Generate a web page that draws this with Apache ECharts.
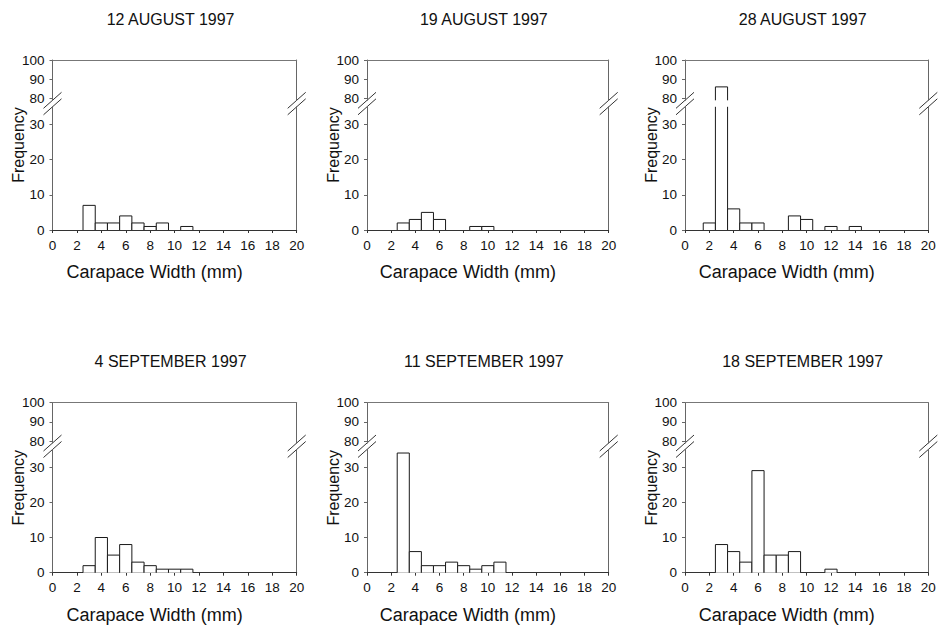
<!DOCTYPE html>
<html><head><meta charset="utf-8">
<script src="https://cdn.jsdelivr.net/npm/echarts@6/dist/echarts.min.js"></script>
<style>html,body{margin:0;padding:0;background:#fff}#c{width:938px;height:627px}</style>
</head><body><div id="c"></div>
<script>
// ---- data ----
const panelTitles = ['12 AUGUST 1997', '19 AUGUST 1997', '28 AUGUST 1997', '4 SEPTEMBER 1997', '11 SEPTEMBER 1997', '18 SEPTEMBER 1997'];
const binCenters = [0, 1, 2, 3, 4, 5, 6, 7, 8, 9, 10, 11, 12, 13, 14, 15, 16, 17, 18, 19];
const freqAug12 = [0, 0, 0, 7, 2, 2, 4, 2, 1, 2, 0, 1, 0, 0, 0, 0, 0, 0, 0, 0];
const freqAug19 = [0, 0, 0, 2, 3, 5, 3, 0, 0, 1, 1, 0, 0, 0, 0, 0, 0, 0, 0, 0];
const freqAug28 = [0, 0, 2, 86, 6, 2, 2, 0, 0, 4, 3, 0, 1, 0, 1, 0, 0, 0, 0, 0];
const freqSep04 = [0, 0, 0, 2, 10, 5, 8, 3, 2, 1, 1, 1, 0, 0, 0, 0, 0, 0, 0, 0];
const freqSep11 = [0, 0, 0, 34, 6, 2, 2, 3, 2, 1, 2, 3, 0, 0, 0, 0, 0, 0, 0, 0];
const freqSep18 = [0, 0, 0, 8, 6, 3, 29, 5, 5, 6, 0, 0, 1, 0, 0, 0, 0, 0, 0, 0];
const panelFreqs = [freqAug12, freqAug19, freqAug28, freqSep04, freqSep11, freqSep18];
const xTickLabels = [0, 2, 4, 6, 8, 10, 12, 14, 16, 18, 20];
const yLowerTicks = [0, 10, 20, 30];
const yUpperTicks = [80, 90, 100];
const xName = 'Carapace Width (mm)';
const yName = 'Frequency';

// ---- layout ----
const FONT = 'Liberation Sans, Arial, sans-serif';
const colLeft = [52.5, 367, 685];
const colRight = [296.7, 608.7, 928.3];
const rowTop = [60, 402.7];
const upperMin = 79, upperMax = 100, lowerMin = 0, lowerMax = 35;
const pxUpper = 1.92, pxLower = 3.52;
const upperH = (upperMax - upperMin) * pxUpper;
const lowerH = (lowerMax - lowerMin) * pxLower;
const lowerBottomOffset = 170; // rowTop -> y=0

const grids = [], xAxes = [], yAxes = [], series = [], graphics = [];
const textColor = '#111';

function renderBars(params, api) {
  const x = api.value(0), v = api.value(1);
  if (!(v > 0)) return null;
  const cs = params.coordSys;
  const gb = cs.y + cs.height;
  let top = api.coord([x, v])[1];
  if (top >= gb) return null;
  const left = api.coord([x - 0.5, v])[0];
  const right = api.coord([x + 0.5, v])[0];
  const bottom = Math.min(api.coord([x, 0])[1], gb);
  const showTop = top >= cs.y;
  top = Math.max(top, cs.y);
  const st = { stroke: '#1a1a1a', lineWidth: 1, fill: null };
  const children = [
    { type: 'rect', shape: { x: left, y: top, width: right - left, height: bottom - top }, style: { fill: '#fff', stroke: null } },
    { type: 'line', shape: { x1: left, y1: bottom, x2: left, y2: top }, style: st },
    { type: 'line', shape: { x1: right, y1: bottom, x2: right, y2: top }, style: st }
  ];
  if (showTop) children.push({ type: 'line', shape: { x1: left, y1: top, x2: right, y2: top }, style: st });
  return { type: 'group', children };
}

for (let p = 0; p < 6; p++) {
  const c = p % 3, r = Math.floor(p / 3);
  const L = colLeft[c], R = colRight[c], W = R - L;
  const T = rowTop[r];
  const zeroY = T + lowerBottomOffset;
  const upperTop = T, upperBottom = T + upperH;
  const lowerTop = zeroY - lowerH;
  const gU = 2 * p, gL = 2 * p + 1;
  grids.push({ left: L, top: upperTop, width: W, height: upperH, containLabel: false, outerBoundsMode: 'none' });
  grids.push({ left: L, top: lowerTop, width: W, height: lowerH, containLabel: false, outerBoundsMode: 'none' });
  // x axes
  xAxes.push({ type: 'value', gridIndex: gU, min: 0, max: 20, interval: 2, position: 'top',
    axisLine: { show: true, onZero: false, lineStyle: { color: '#777', width: 1 } },
    axisTick: { show: false }, axisLabel: { show: false }, splitLine: { show: false } });
  xAxes.push({ type: 'value', gridIndex: gL, min: 0, max: 20, interval: 2, position: 'bottom',
    axisLine: { show: true, onZero: false, lineStyle: { color: '#333', width: 1 } },
    axisTick: { show: true, length: 3, lineStyle: { color: '#333' } },
    axisLabel: { show: true, margin: 8, fontSize: 13.5, color: textColor, fontFamily: FONT, customValues: xTickLabels },
    splitLine: { show: false } });
  // y axes (left upper, left lower, right upper, right lower)
  yAxes.push({ type: 'value', gridIndex: gU, min: upperMin, max: upperMax, position: 'left',
    axisLine: { show: true, onZero: false, lineStyle: { color: '#666' } },
    axisTick: { show: true, length: 3, customValues: yUpperTicks, lineStyle: { color: '#666' } },
    axisLabel: { show: true, margin: 8, fontSize: 13.5, color: textColor, fontFamily: FONT, customValues: yUpperTicks },
    splitLine: { show: false } });
  yAxes.push({ type: 'value', gridIndex: gL, min: lowerMin, max: lowerMax, position: 'left',
    axisLine: { show: true, onZero: false, lineStyle: { color: '#666' } },
    axisTick: { show: true, length: 3, customValues: yLowerTicks, lineStyle: { color: '#666' } },
    axisLabel: { show: true, margin: 8, fontSize: 13.5, color: textColor, fontFamily: FONT, customValues: yLowerTicks },
    splitLine: { show: false } });
  yAxes.push({ type: 'value', gridIndex: gU, min: upperMin, max: upperMax, position: 'right',
    axisLine: { show: true, onZero: false, lineStyle: { color: '#666' } },
    axisTick: { show: false }, axisLabel: { show: false }, splitLine: { show: false } });
  yAxes.push({ type: 'value', gridIndex: gL, min: lowerMin, max: lowerMax, position: 'right',
    axisLine: { show: true, onZero: false, lineStyle: { color: '#666' } },
    axisTick: { show: false }, axisLabel: { show: false }, splitLine: { show: false } });

  const data = binCenters.map((b, i) => [b, panelFreqs[p][i]]);
  series.push({ type: 'custom', xAxisIndex: gU, yAxisIndex: 4 * p, data, renderItem: renderBars, silent: true, animation: false });
  series.push({ type: 'custom', xAxisIndex: gL, yAxisIndex: 4 * p + 1, data, renderItem: renderBars, silent: true, animation: false });

  // break marks on both sides
  [L, R].forEach(ax => {
    [upperBottom, lowerTop].forEach(yc => {
      graphics.push({ type: 'line', silent: true, shape: { x1: ax - 9, y1: yc + 8, x2: ax + 9, y2: yc - 8 },
        style: { stroke: '#333', lineWidth: 1 } });
    });
  });
  // texts
  graphics.push({ type: 'text', silent: true, x: (L + R) / 2 - 4, y: T - 41,
    style: { text: panelTitles[p], font: '16px ' + FONT, fill: textColor, align: 'center', verticalAlign: 'middle' } });
  graphics.push({ type: 'text', silent: true, x: (L + R) / 2 - 20, y: zeroY + 42,
    style: { text: xName, font: '18px ' + FONT, fill: textColor, align: 'center', verticalAlign: 'middle' } });
  graphics.push({ type: 'text', silent: true, x: L - 34, y: T + 85, rotation: Math.PI / 2,
    style: { text: yName, font: '16px ' + FONT, fill: textColor, align: 'center', verticalAlign: 'middle' } });
}

const chart = echarts.init(document.getElementById('c'), null, { renderer: 'svg', width: 938, height: 627 });
chart.setOption({
  animation: false,
  backgroundColor: '#fff',
  grid: grids, xAxis: xAxes, yAxis: yAxes, series: series, graphic: graphics
});
</script></body></html>
